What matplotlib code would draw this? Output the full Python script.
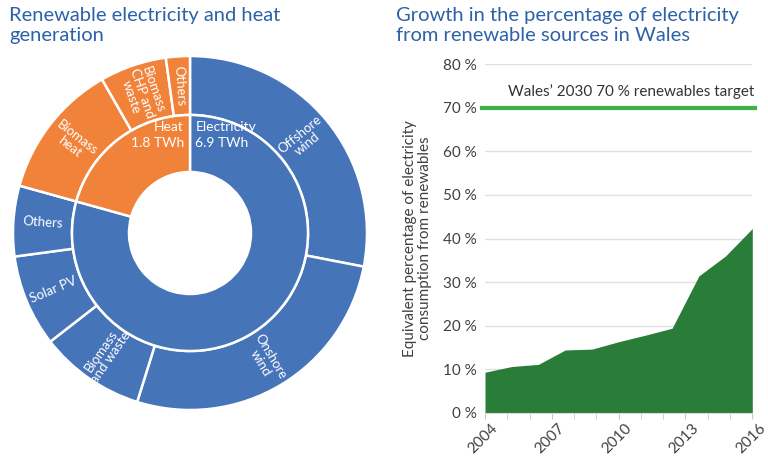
import matplotlib
matplotlib.use('Agg')
import matplotlib.pyplot as plt
import matplotlib.transforms as mtransforms
import numpy as np

plt.rcParams['font.family'] = ['Lato', 'DejaVu Sans']

# donut data (TWh)
inner_labels = ['Electricity\n6.9 TWh', 'Heat\n1.8 TWh']
inner_values = [6.9, 1.8]
outer_labels = ['Offshore\nwind', 'Onshore\nwind', 'Biomass\nand waste', 'Solar PV', 'Others',
                'Biomass\nheat', 'Biomass\nCHP and\nwaste', 'Others']
outer_values = [2.44, 2.33, 0.84, 0.73, 0.56, 1.08, 0.53, 0.19]

# renewables share in Wales
share_x = [2004.0, 2005.2, 2006.4, 2007.6, 2008.8, 2010.0, 2011.2, 2012.4, 2013.6, 2014.8, 2016.0]
share_y = [9.3, 10.6, 11.1, 14.4, 14.6, 16.3, 17.8, 19.4, 31.4, 36.0, 42.3]
target = 70
year_ticks = [2004, 2007, 2010, 2013, 2016]
pct_ticks = [0, 10, 20, 30, 40, 50, 60, 70, 80]

blue = '#4574B9'
orange = '#F0823A'
title_col = '#2B62A8'
text_col = '#404040'

W, H = 768, 459
fig = plt.figure(figsize=(W / 100, H / 100), dpi=100)

# titles
fig.text(9 / W, 1 - 7 / H, 'Renewable electricity and heat\ngeneration', color=title_col,
         fontsize=14.5, va='top', ha='left', linespacing=1.2)
fig.text(396 / W, 1 - 7 / H, 'Growth in the percentage of electricity\nfrom renewable sources in Wales',
         color=title_col, fontsize=14.5, va='top', ha='left', linespacing=1.2)

# ---- donut ----
cx, cy, R = 190, 233, 177
half = 180
ax1 = fig.add_axes([(cx - half) / W, (H - cy - half) / H, 2 * half / W, 2 * half / H])
lim = half / R

outer_cols = [blue] * 5 + [orange] * 3
inner_cols = [blue, orange]
ax1.pie(outer_values, radius=1.0, colors=outer_cols, startangle=90, counterclock=False,
        wedgeprops=dict(width=0.333, edgecolor='white', linewidth=1.8))
ax1.pie(inner_values, radius=118 / R, colors=inner_cols, startangle=90, counterclock=False,
        wedgeprops=dict(width=(118 - 61) / R, edgecolor='white', linewidth=1.8))
ax1.set_xlim(-lim, lim)
ax1.set_ylim(-lim, lim)
ax1.set_aspect('equal')
ax1.axis('off')

total = sum(outer_values)
ang = 90.0
for lab, v in zip(outer_labels, outer_values):
    span = v / total * 360
    mid = ang - span / 2
    ang -= span
    rr = 0.835
    x = rr * np.cos(np.radians(mid))
    y = rr * np.sin(np.radians(mid))
    rot = mid if np.cos(np.radians(mid)) >= 0 else mid - 180
    if rot < -90:
        rot += 360
    ax1.text(x, y, lab, color='white', fontsize=9.5, ha='center', va='center',
             rotation=rot, rotation_mode='anchor', linespacing=0.95)

ax1.text(0.03, 0.555, inner_labels[0], color='white', fontsize=10, ha='left', va='center',
         linespacing=1.35)
ax1.text(-0.035, 0.555, inner_labels[1], color='white', fontsize=10, ha='right', va='center',
         linespacing=1.35, multialignment='right')

# ---- area chart ----
left, right, bottom, top = 485, 752.3, 412.7, 64.3
ax2 = fig.add_axes([left / W, (H - bottom) / H, (right - left) / W, (bottom - top) / H])
ax2.fill_between(share_x, share_y, 0, color='#2A7D38', linewidth=0, zorder=2)
ax2.set_xlim(2004, 2016)
ax2.set_ylim(0, 80)
ax2.set_yticks(pct_ticks)
ax2.set_yticklabels([f'{t} %' for t in pct_ticks])
ax2.set_xticks(year_ticks)
ax2.set_xticks(range(2004, 2017), minor=True)
ax2.set_xticklabels([str(t) for t in year_ticks], rotation=45, ha='right',
                    rotation_mode='anchor')
for s in ['left', 'right', 'top']:
    ax2.spines[s].set_visible(False)
ax2.spines['bottom'].set_color('#D9D9D9')
ax2.grid(axis='y', color='#E0E0E0', linewidth=1, zorder=0)
ax2.set_axisbelow(True)
ax2.tick_params(axis='y', length=0, pad=6, labelsize=11, labelcolor=text_col)
ax2.tick_params(axis='x', which='both', length=4, color='#C8C8C8', labelsize=11,
                labelcolor=text_col, pad=2)
offset = mtransforms.ScaledTranslation(6 / 100, 0, fig.dpi_scale_trans)
for lbl in ax2.get_xticklabels():
    lbl.set_transform(lbl.get_transform() + offset)

ax2.axhline(target, xmin=-0.01, xmax=1.01, color='#3DB249', linewidth=3, clip_on=False, zorder=3)
ax2.text(2016.1, target + 2.0, 'Wales\u2019 2030 70 % renewables target', ha='right', va='bottom',
         fontsize=11, color='#333333')

ax2.set_ylabel('Equivalent percentage of electricity\nconsumption from renewables',
               fontsize=11, color=text_col, labelpad=8, linespacing=1.05)

fig.savefig('out.png', dpi=100)
